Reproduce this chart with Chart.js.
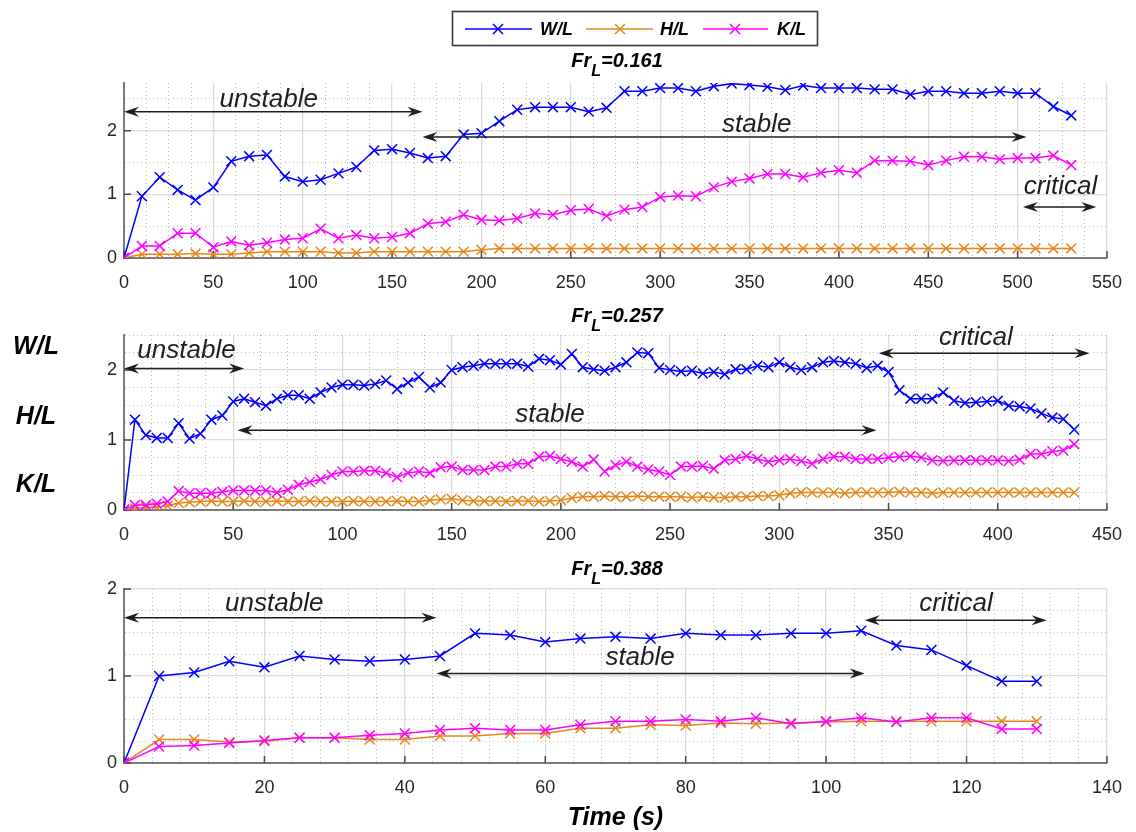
<!DOCTYPE html>
<html>
<head>
  <meta charset="utf-8" />
  <title>W/L, H/L and K/L against time</title>
  <script src="https://cdn.jsdelivr.net/npm/chart.js"></script>
  <style>
    body { margin: 0; background: #fff; width: 1136px; height: 832px; position: relative; overflow: hidden; }
    canvas { position: absolute; left: 0; }
  </style>
</head>
<body>
  <canvas id="c1" width="1136" height="300" style="top:0"></canvas>
  <canvas id="c2" width="1136" height="252" style="top:300px"></canvas>
  <canvas id="c3" width="1136" height="280" style="top:552px"></canvas>

  <script>
    // ---- data ----
    // Fr_L = 0.161 (one sample every 10 s)
    const t1 = [0,10,20,30,40,50,60,70,80,90,100,110,120,130,140,150,160,170,180,190,
      200,210,220,230,240,250,260,270,280,290,300,310,320,330,340,350,360,370,380,390,
      400,410,420,430,440,450,460,470,480,490,500,510,520,530];
    const w1 = [0,0.97,1.27,1.07,0.91,1.11,1.52,1.60,1.62,1.28,
      1.20,1.23,1.33,1.43,1.69,1.71,1.65,1.57,1.60,1.94,
      1.96,2.15,2.33,2.37,2.37,2.37,2.30,2.36,2.62,2.62,
      2.67,2.67,2.62,2.70,2.74,2.72,2.69,2.64,2.71,2.67,
      2.67,2.67,2.65,2.65,2.57,2.62,2.62,2.59,2.59,2.62,
      2.59,2.59,2.38,2.24];
    const h1 = [0,0.06,0.06,0.06,0.07,0.06,0.06,0.08,0.10,0.10,
      0.10,0.10,0.08,0.08,0.10,0.10,0.10,0.10,0.10,0.10,
      0.13,0.15,0.15,0.15,0.15,0.15,0.15,0.15,0.15,0.15,
      0.15,0.15,0.15,0.15,0.15,0.15,0.15,0.15,0.15,0.15,
      0.15,0.15,0.15,0.15,0.15,0.15,0.15,0.15,0.15,0.15,
      0.15,0.15,0.15,0.15];
    const k1 = [0,0.19,0.19,0.39,0.39,0.17,0.26,0.20,0.24,0.29,
      0.31,0.46,0.31,0.36,0.31,0.33,0.39,0.54,0.57,0.68,
      0.60,0.59,0.62,0.70,0.68,0.75,0.77,0.66,0.76,0.80,
      0.96,0.98,0.97,1.11,1.20,1.25,1.32,1.32,1.27,1.34,
      1.38,1.34,1.53,1.53,1.52,1.46,1.53,1.59,1.59,1.55,
      1.57,1.57,1.61,1.46];

    // Fr_L = 0.257 (one sample every 5 s)
    const t2 = [0,5,10,15,20,25,30,35,40,45,50,55,60,65,70,75,80,85,90,95,
      100,105,110,115,120,125,130,135,140,145,150,155,160,165,170,175,180,185,190,195,
      200,205,210,215,220,225,230,235,240,245,250,255,260,265,270,275,280,285,290,295,
      300,305,310,315,320,325,330,335,340,345,350,355,360,365,370,375,380,385,390,395,
      400,405,410,415,420,425,430,435];
    const w2 = [0,1.29,1.07,1.03,1.03,1.24,1.02,1.09,1.29,1.35,
      1.55,1.59,1.54,1.49,1.59,1.64,1.64,1.59,1.68,1.75,
      1.79,1.79,1.78,1.80,1.85,1.73,1.82,1.90,1.75,1.82,
      2.00,2.04,2.06,2.09,2.09,2.09,2.09,2.05,2.16,2.14,
      2.08,2.23,2.04,2.01,1.99,2.04,2.11,2.25,2.24,2.03,
      2.00,1.98,1.99,1.95,1.97,1.94,2.01,2.01,2.06,2.04,
      2.11,2.04,2.00,2.04,2.11,2.13,2.11,2.09,2.03,2.06,
      1.97,1.71,1.59,1.59,1.59,1.68,1.56,1.53,1.54,1.55,
      1.56,1.49,1.48,1.45,1.38,1.32,1.30,1.15];
    const h2 = [0,0.02,0.04,0.04,0.06,0.10,0.11,0.12,0.13,0.12,
      0.12,0.13,0.12,0.12,0.13,0.12,0.12,0.13,0.12,0.12,
      0.12,0.13,0.12,0.12,0.12,0.13,0.12,0.12,0.14,0.15,
      0.16,0.14,0.13,0.13,0.13,0.12,0.13,0.13,0.12,0.13,
      0.14,0.17,0.19,0.19,0.20,0.19,0.19,0.20,0.19,0.19,
      0.19,0.19,0.18,0.19,0.18,0.18,0.19,0.19,0.20,0.20,
      0.21,0.24,0.25,0.25,0.25,0.25,0.24,0.25,0.25,0.25,
      0.25,0.26,0.25,0.25,0.24,0.25,0.25,0.25,0.25,0.25,
      0.25,0.25,0.25,0.25,0.25,0.25,0.25,0.25];
    const k2 = [0,0.07,0.07,0.09,0.12,0.27,0.24,0.24,0.24,0.26,
      0.28,0.28,0.28,0.28,0.25,0.29,0.36,0.40,0.44,0.50,
      0.55,0.55,0.56,0.56,0.53,0.47,0.53,0.55,0.53,0.61,
      0.62,0.57,0.57,0.57,0.62,0.62,0.66,0.66,0.76,0.77,
      0.73,0.69,0.62,0.72,0.55,0.64,0.69,0.62,0.58,0.55,
      0.50,0.62,0.62,0.63,0.59,0.71,0.73,0.77,0.73,0.69,
      0.71,0.73,0.70,0.66,0.73,0.76,0.76,0.73,0.73,0.73,
      0.75,0.76,0.77,0.75,0.71,0.70,0.71,0.71,0.71,0.71,
      0.71,0.70,0.72,0.80,0.80,0.84,0.85,0.94];

    // Fr_L = 0.388 (one sample every 5 s)
    const t3 = [0,5,10,15,20,25,30,35,40,45,50,55,60,65,70,75,80,85,90,95,100,105,110,115,120,125,130];
    const w3 = [0,1.00,1.04,1.17,1.10,1.23,1.19,1.17,1.19,1.23,1.49,1.47,1.39,1.43,1.45,1.43,1.49,1.47,1.47,1.49,1.49,1.52,1.35,1.30,1.12,0.94,0.94];
    const h3 = [0,0.27,0.27,0.24,0.25,0.29,0.29,0.27,0.27,0.31,0.31,0.34,0.34,0.40,0.40,0.44,0.43,0.46,0.45,0.46,0.47,0.48,0.48,0.48,0.48,0.48,0.48];
    const k3 = [0,0.19,0.20,0.23,0.26,0.29,0.29,0.32,0.34,0.38,0.40,0.38,0.38,0.44,0.48,0.48,0.50,0.48,0.52,0.45,0.48,0.52,0.47,0.52,0.52,0.39,0.39];

    // flow regimes: arrow from/to (s) at height y, label at (tx, ty)
    const phases1 = [
      { text: 'unstable', from: 0, to: 167, y: 2.30, tx: 81, ty: 2.48 },
      { text: 'stable', from: 167, to: 505, y: 1.90, tx: 354, ty: 2.09 },
      { text: 'critical', from: 503, to: 544, y: 0.80, tx: 524, ty: 1.12 }
    ];
    const phases2 = [
      { text: 'unstable', from: 0, to: 55, y: 2.02, tx: 28.6, ty: 2.27 },
      { text: 'stable', from: 52, to: 344.5, y: 1.14, tx: 195, ty: 1.36 },
      { text: 'critical', from: 345.5, to: 442, y: 2.24, tx: 390, ty: 2.46 }
    ];
    const phases3 = [
      { text: 'unstable', from: 0, to: 44.5, y: 1.67, tx: 21.4, ty: 1.83 },
      { text: 'stable', from: 44.5, to: 105.5, y: 1.03, tx: 73.5, ty: 1.21 },
      { text: 'critical', from: 105.5, to: 131.4, y: 1.64, tx: 118.5, ty: 1.83 }
    ];

    const seriesNames = ['W/L', 'H/L', 'K/L'];
    const seriesColors = ['#0000ff', '#e3881b', '#ff00ff'];

    // ---- helpers ----
    const FONT = '"Liberation Sans", Arial, Helvetica, sans-serif';

    function isMult(v, m) {
      return Math.abs(v / m - Math.round(v / m)) < 1e-6;
    }

    function gridColor(c, major, minor) {
      if (!c.tick) return 'rgba(0,0,0,0)';
      if (isMult(c.tick.value, major)) return '#dcdcdc';
      if (isMult(c.tick.value, minor)) return '#b9b9b9';
      return 'rgba(0,0,0,0)';
    }

    function axis(max, step, major, minor, size, horizontal) {
      return {
        type: 'linear',
        min: 0,
        max: max,
        afterFit: s => { if (horizontal) s.height = size; else s.width = size; },
        ticks: {
          stepSize: step,
          majorStep: major,
          autoSkip: false,
          maxRotation: 0,
          padding: horizontal ? 14 : 7,
          color: '#262626',
          font: { family: FONT, size: 18 },
          callback: v => isMult(v, major) ? v : ''
        },
        grid: {
          drawTicks: false,
          color: c => gridColor(c, major, minor),
          lineWidth: c => (c.tick && isMult(c.tick.value, major)) ? 1.3 : 1
        },
        border: {
          color: '#7a7a7a',
          width: 2,
          dash: c => (c.tick && !isMult(c.tick.value, major)) ? [1, 3] : []
        }
      };
    }

    function arrowHead(ctx, x, y, dir) {
      ctx.beginPath();
      ctx.moveTo(x, y);
      ctx.lineTo(x - dir * 15, y - 5);
      ctx.lineTo(x - dir * 10, y);
      ctx.lineTo(x - dir * 15, y + 5);
      ctx.closePath();
      ctx.fill();
    }

    function crossMark(ctx, x, y, r) {
      ctx.beginPath();
      ctx.moveTo(x - r, y - r); ctx.lineTo(x + r, y + r);
      ctx.moveTo(x - r, y + r); ctx.lineTo(x + r, y - r);
      ctx.stroke();
    }

    function drawTitle(ctx, value, cx, base) {
      ctx.fillStyle = '#000';
      ctx.textBaseline = 'alphabetic';
      ctx.textAlign = 'left';
      ctx.font = 'italic bold 20px ' + FONT;
      const a = ctx.measureText('Fr').width;
      const c = ctx.measureText('=' + value).width;
      ctx.font = 'italic bold 16px ' + FONT;
      const b = ctx.measureText('L').width;
      const x = cx - (a + b + c) / 2;
      ctx.font = 'italic bold 20px ' + FONT;
      ctx.fillText('Fr', x, base);
      ctx.font = 'italic bold 16px ' + FONT;
      ctx.fillText('L', x + a, base + 9);
      ctx.font = 'italic bold 20px ' + FONT;
      ctx.fillText('=' + value, x + a + b, base);
    }

    // phase arrows, inward ticks and the figure text
    function extras(phases, title, titleBase, more) {
      return {
        id: 'extras',
        beforeDatasetsDraw(chart) {
          const { ctx, chartArea: a, scales: { x, y } } = chart;
          const xm = x.options.ticks.majorStep;
          ctx.save();
          ctx.strokeStyle = '#4a4a4a';
          ctx.lineWidth = 1.5;
          ctx.beginPath();
          x.ticks.forEach(tk => {
            if (!isMult(tk.value, xm)) return;
            const px = x.getPixelForValue(tk.value);
            ctx.moveTo(px, a.bottom); ctx.lineTo(px, a.bottom - 7);
          });
          y.ticks.forEach(tk => {
            if (!isMult(tk.value, 1)) return;
            const py = y.getPixelForValue(tk.value);
            ctx.moveTo(a.left, py); ctx.lineTo(a.left + 7, py);
          });
          ctx.stroke();
          ctx.restore();
        },
        afterDatasetsDraw(chart) {
          const { ctx, scales: { x, y } } = chart;
          ctx.save();
          ctx.strokeStyle = '#1e1e1e';
          ctx.fillStyle = '#1e1e1e';
          ctx.lineWidth = 1.5;
          phases.forEach(p => {
            const x0 = x.getPixelForValue(p.from);
            const x1 = x.getPixelForValue(p.to);
            const py = y.getPixelForValue(p.y);
            ctx.beginPath();
            ctx.moveTo(x0 + 8, py); ctx.lineTo(x1 - 8, py);
            ctx.stroke();
            arrowHead(ctx, x0, py, -1);
            arrowHead(ctx, x1, py, 1);
            ctx.font = 'italic 26px ' + FONT;
            ctx.textAlign = 'center';
            ctx.textBaseline = 'middle';
            ctx.fillText(p.text, x.getPixelForValue(p.tx), y.getPixelForValue(p.ty));
          });
          drawTitle(ctx, title, 617, titleBase);
          if (more) more(ctx);
          ctx.restore();
        }
      };
    }

    function drawLegend(ctx) {
      ctx.fillStyle = '#fff';
      ctx.fillRect(452, 11, 366, 35);
      ctx.strokeStyle = '#3a3a3a';
      ctx.lineWidth = 1.6;
      ctx.strokeRect(452.5, 11.5, 365, 34);
      const spots = [[465, 532, 498, 540], [586, 653, 620, 660], [703, 768, 735, 777]];
      spots.forEach((s, i) => {
        ctx.strokeStyle = seriesColors[i];
        ctx.lineWidth = 1.5;
        ctx.beginPath(); ctx.moveTo(s[0], 29); ctx.lineTo(s[1], 29); ctx.stroke();
        crossMark(ctx, s[2], 29, 5);
        ctx.fillStyle = '#000';
        ctx.font = 'italic bold 18px ' + FONT;
        ctx.textAlign = 'left';
        ctx.textBaseline = 'middle';
        ctx.fillText(seriesNames[i], s[3], 30);
      });
    }

    function drawSideLabels(ctx) {
      ctx.fillStyle = '#000';
      ctx.font = 'italic bold 25px ' + FONT;
      ctx.textAlign = 'center';
      ctx.textBaseline = 'middle';
      ctx.fillText('W/L', 36, 47);
      ctx.fillText('H/L', 36, 117);
      ctx.fillText('K/L', 36, 185);
    }

    function datasets(t, w, h, k) {
      return [w, h, k].map((v, i) => ({
        label: seriesNames[i],
        data: t.map((x, j) => ({ x: x, y: v[j] })),
        borderColor: seriesColors[i],
        backgroundColor: seriesColors[i],
        borderWidth: 1.5,
        pointStyle: 'crossRot',
        pointRadius: 7,
        pointBorderWidth: 1.5,
        pointBorderColor: seriesColors[i],
        tension: 0,
        order: 3 - i
      }));
    }

    function makeChart(id, t, w, h, k, xs, ys, pad, plugin) {
      new Chart(document.getElementById(id), {
        type: 'line',
        data: { datasets: datasets(t, w, h, k) },
        options: {
          responsive: false,
          animation: false,
          events: [],
          layout: { padding: pad },
          plugins: { legend: { display: false }, tooltip: { enabled: false } },
          scales: { x: xs, y: ys }
        },
        plugins: [plugin]
      });
    }

    // ---- panel 1 ----
    makeChart('c1', t1, w1, h1, k1,
      axis(550, 12.5, 50, 12.5, 36, true),
      axis(2.75, 0.25, 1, 0.5, 40, false),
      { left: 84, right: 22, top: 83, bottom: 6 },
      extras(phases1, '0.161', 67, drawLegend));

    // ---- panel 2 ----
    makeChart('c2', t2, w2, h2, k2,
      axis(450, 12.5, 50, 12.5, 36, true),
      axis(2.5, 0.25, 1, 0.25, 40, false),
      { left: 84, right: 22, top: 35, bottom: 6 },
      extras(phases2, '0.257', 22, drawSideLabels));

    // ---- panel 3 ----
    const x3 = axis(140, 4, 20, 4, 69, true);
    x3.title = {
      display: true,
      text: 'Time (s)',
      color: '#000',
      font: { family: FONT, size: 25, weight: 'bold', style: 'italic', lineHeight: 1 },
      padding: { top: 0, bottom: 1 }
    };
    makeChart('c3', t3, w3, h3, k3, x3,
      axis(2, 0.25, 1, 0.25, 40, false),
      { left: 84, right: 22, top: 37, bottom: 0 },
      extras(phases3, '0.388', 23, null));
  </script>
</body>
</html>
